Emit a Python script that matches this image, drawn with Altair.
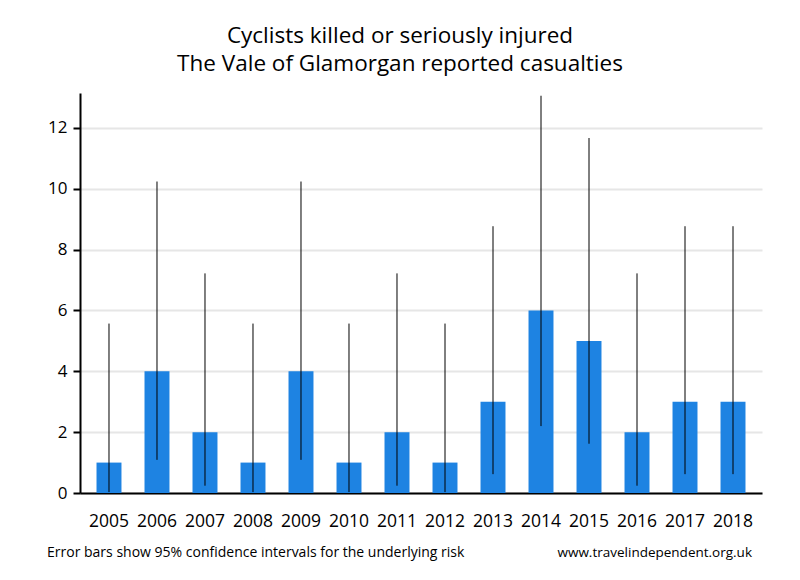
import altair as alt
import pandas as pd

years = ["2005", "2006", "2007", "2008", "2009", "2010", "2011", "2012",
         "2013", "2014", "2015", "2016", "2017", "2018"]
casualties = [1, 4, 2, 1, 4, 1, 2, 1, 3, 6, 5, 2, 3, 3]
ci_lower = [0.03, 1.09, 0.24, 0.03, 1.09, 0.03, 0.24, 0.03, 0.62, 2.20, 1.62, 0.24, 0.62, 0.62]
ci_upper = [5.57, 10.24, 7.22, 5.57, 10.24, 5.57, 7.22, 5.57, 8.77, 13.06, 11.67, 7.22, 8.77, 8.77]
y_ticks = [0, 2, 4, 6, 8, 10, 12]
title_lines = ["Cyclists killed or seriously injured", "The Vale of Glamorgan reported casualties"]
footer_left = "Error bars show 95% confidence intervals for the underlying risk"
footer_right = "www.travelindependent.org.uk"

df = pd.DataFrame({"year": years, "value": casualties, "lo": ci_lower, "hi": ci_upper})

FONT = "Open Sans"

x_scale = alt.Scale(paddingInner=0.48, paddingOuter=0.344)
x = alt.X("year:N", sort=years, title=None, scale=x_scale,
          axis=alt.Axis(labelAngle=0, labelFontSize=17.5, labelColor="black", labelFont=FONT,
                        ticks=False, domainColor="black", domainWidth=2, labelPadding=19,
                        grid=False))
y_scale = alt.Scale(domain=[0, 13.15], nice=False, zero=True)

bars = alt.Chart(df).mark_bar(color="#1E83E2").encode(
    x=x,
    y=alt.Y("value:Q", scale=y_scale, title=None,
            axis=alt.Axis(values=y_ticks, labelFontSize=17, labelColor="black", labelFont=FONT,
                          tickColor="black", tickWidth=2, tickSize=7, domainColor="black",
                          domainWidth=2, gridColor="#e6e6e6", gridWidth=2, labelPadding=6)),
)

errs = alt.Chart(df).mark_rule(color="black", strokeWidth=1).encode(
    x=alt.X("year:N", sort=years, scale=x_scale),
    y=alt.Y("lo:Q", scale=y_scale),
    y2="hi:Q",
)

foot_df = pd.DataFrame({"t": [footer_left]})
foot_l = alt.Chart(foot_df).mark_text(align="left", baseline="middle", fontSize=14, font=FONT,
                                      color="black").encode(
    text="t:N", x=alt.value(-33), y=alt.value(460))
foot_df2 = pd.DataFrame({"t": [footer_right]})
foot_r = alt.Chart(foot_df2).mark_text(align="right", baseline="middle", fontSize=13.5, font=FONT,
                                       color="black").encode(
    text="t:N", x=alt.value(672), y=alt.value(460))

chart = alt.layer(bars, errs, foot_l, foot_r).properties(
    width=682, height=400,
    autosize=alt.AutoSizeParams(type="none"),
    padding={"left": 72, "top": 85, "right": 30, "bottom": 79},
    title=alt.TitleParams(text=title_lines, fontSize=22.5, font=FONT, fontWeight="normal",
                          color="black", anchor="middle", dx=-21, offset=18, lineHeight=28),
).configure_view(stroke=None)

chart.save("out.html", embed_options={"renderer": "svg", "actions": False})
